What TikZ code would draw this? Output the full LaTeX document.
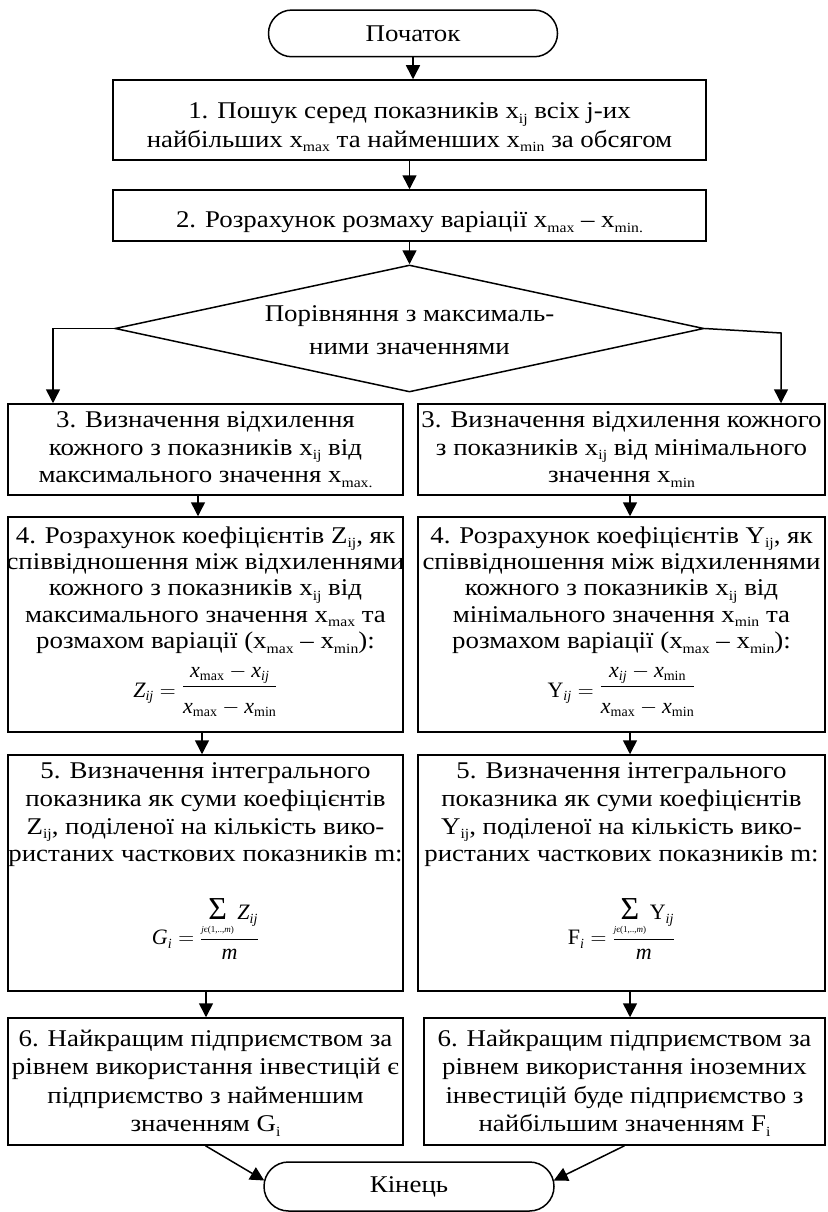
\RequirePackage{fix-cm}
\documentclass[tikz,border=0pt]{standalone}
\usepackage{amsmath}
\usepackage{graphicx}
\usepackage{fontspec}
\setmainfont{Liberation Serif}[FakeStretch=1.12]
\newfontfamily\eqfont{Liberation Serif}
\usetikzlibrary{arrows.meta,shapes.geometric,calc}
\newcommand\sbx[1]{\raisebox{-4.5pt}{\fontsize{14}{14}\selectfont #1}}
\newcommand\zi[1]{\mbox{\eqfont\itshape #1}}
\newcommand\zr[1]{\mbox{\eqfont #1}}
\newcommand\zsi[1]{\mbox{\fontsize{14}{14}\selectfont\eqfont\itshape #1}}
\newcommand\zsr[1]{\mbox{\fontsize{14}{14}\selectfont\eqfont #1}}
\newcommand\zlim{\mbox{\fontsize{9}{9}\selectfont\eqfont\itshape j\upshape є(1,..,\itshape m\upshape)}}
\newcommand\bigsum{\mathop{\mbox{\fontsize{32}{32}\selectfont\eqfont Σ}}}
\newcommand\eqfrac[2]{\dfrac{\raisebox{-4pt}[\height][0pt]{$#1$}}{\rule{0pt}{23.5pt}#2}}
\newcommand\lowr[1]{\raisebox{-5pt}{$#1$}}
\newcommand\strt[1]{\rule{0pt}{#1}}
\newcommand\tf[1]{\fontsize{24}{#1}\selectfont\lineskiplimit=-100pt\relax}
\newcommand\eqsz{\fontsize{22}{24}\selectfont}
\begin{document}
\begin{tikzpicture}[x=1pt,y=-1pt,line width=1.5pt,
  shp/.style={draw,rectangle,inner sep=0pt},
  tx/.style={inner sep=0pt,align=center,anchor=north},
  arr/.style={-{Triangle[length=14pt,width=14pt]}}]
\useasboundingbox (0,0) rectangle (827,1212);

% shapes
\node[shp,rounded corners=23.3pt,minimum width=289pt,minimum height=46.7pt,font=\tf{30pt}] (start) at (413,33.4) {Початок};
\node[shp,minimum width=593pt,minimum height=80pt] (b1) at (409.5,120) {};
\node[shp,minimum width=593pt,minimum height=51pt] (b2) at (409.5,215.5) {};
\node[shp,diamond,minimum width=589pt,minimum height=127pt] (d) at (409.5,328.5) {};
\node[shp,minimum width=395pt,minimum height=91pt] (b3L) at (205.5,449.5) {};
\node[shp,minimum width=407pt,minimum height=91pt] (b3R) at (621.5,449.5) {};
\node[shp,minimum width=395pt,minimum height=215pt] (b4L) at (205.5,624.5) {};
\node[shp,minimum width=407pt,minimum height=215pt] (b4R) at (621.5,624.5) {};
\node[shp,minimum width=395pt,minimum height=236pt] (b5L) at (205.5,873) {};
\node[shp,minimum width=407pt,minimum height=236pt] (b5R) at (621.5,873) {};
\node[shp,minimum width=395pt,minimum height=127pt] (b6L) at (205.5,1081.5) {};
\node[shp,minimum width=401pt,minimum height=127pt] (b6R) at (624.5,1081.5) {};
\node[shp,rounded corners=24.5pt,minimum width=290pt,minimum height=49pt,font=\tf{30pt}] (fin) at (409,1186.5) {Кінець};

% texts
\node[tx,font=\tf{28.5pt}] (t1) at (409.5,94)
  {\strt{24pt}1. Пошук серед показників x\sbx{ij} всіх j-их\\найбільших x\sbx{max} та найменших x\sbx{min} за обсягом};
\node[tx,font=\tf{28pt}] (t2) at (409.5,203)
  {\strt{24pt}2. Розрахунок розмаху варіації x\sbx{max} – x\sbx{min.}};
\node[tx,font=\tf{33pt}] (td) at (409.5,297)
  {\strt{24pt}Порівняння з максималь-\\ними значеннями};

\node[tx,font=\tf{27.5pt}] (t3L) at (205.5,403)
  {\strt{24pt}3. Визначення відхилення\\кожного з показників x\sbx{ij} від\\максимального значення x\sbx{max.}};
\node[tx,font=\tf{27.5pt}] (t3R) at (621.5,403)
  {\strt{24pt}3. Визначення відхилення кожного\\з показників x\sbx{ij} від мінімального\\значення x\sbx{min}};

\node[tx,font=\tf{26.4pt}] (t4L) at (205.5,518.3)
  {\strt{24pt}4. Розрахунок коефіцієнтів Z\sbx{ij}, як\\співвідношення між відхиленнями\\кожного з показників x\sbx{ij} від\\максимального значення x\sbx{max} та\\розмахом варіації (x\sbx{max} – x\sbx{min}):};
\node[tx,font=\tf{26.4pt}] (t4R) at (621.5,518.3)
  {\strt{24pt}4. Розрахунок коефіцієнтів Y\sbx{ij}, як\\співвідношення між відхиленнями\\кожного з показників x\sbx{ij} від\\мінімального значення x\sbx{min} та\\розмахом варіації (x\sbx{max} – x\sbx{min}):};
\node[inner sep=0pt,anchor=base,font=\eqsz] (f4L) at (205.5,692.2)
  {$\lowr{\zi{Z}_{\zsi{ij}}} \mathrel{\lowr{=}} \eqfrac{\zi{x}_{\zsr{max}} - \zi{x}_{\zsi{ij}}}{\zi{x}_{\zsr{max}} - \zi{x}_{\zsr{min}}}$};
\node[inner sep=0pt,anchor=base,font=\eqsz] (f4R) at (621.5,692.2)
  {$\lowr{\zr{Y}_{\zsi{ij}}} \mathrel{\lowr{=}} \eqfrac{\zi{x}_{\zsi{ij}} - \zi{x}_{\zsr{min}}}{\zi{x}_{\zsr{max}} - \zi{x}_{\zsr{min}}}$};

\node[tx,font=\tf{27.7pt}] (t5L) at (205.5,754)
  {\strt{24pt}5. Визначення інтегрального\\показника як суми коефіцієнтів\\Z\sbx{ij}, поділеної на кількість вико-\\ристаних часткових показників m:};
\node[tx,font=\tf{27.7pt}] (t5R) at (621.5,754)
  {\strt{24pt}5. Визначення інтегрального\\показника як суми коефіцієнтів\\Y\sbx{ij}, поділеної на кількість вико-\\ристаних часткових показників m:};
\node[inner sep=0pt,anchor=base,font=\eqsz] (f5L) at (205.5,944.8)
  {$\zi{G}_{\zsi{i}} = \dfrac{\bigsum\limits_{\zlim}\zi{Z}_{\zsi{ij}}}{\rule{0pt}{17pt}\zi{m}}$};
\node[inner sep=0pt,anchor=base,font=\eqsz] (f5R) at (621.5,944.8)
  {$\zr{F}_{\zsi{i}} = \dfrac{\bigsum\limits_{\zlim}\zr{Y}_{\zsi{ij}}}{\rule{0pt}{17pt}\zi{m}}$};

\node[tx,font=\tf{28.6pt}] (t6L) at (205.5,1021.3)
  {\strt{24pt}6. Найкращим підприємством за\\рівнем використання інвестицій є\\підприємство з найменшим\\значенням G\sbx{i}};
\node[tx,font=\tf{28.6pt}] (t6R) at (624.5,1021.3)
  {\strt{24pt}6. Найкращим підприємством за\\рівнем використання іноземних\\інвестицій буде підприємство з\\найбільшим значенням F\sbx{i}};

% connectors
\draw[arr] (start.south) -- (start.south |- b1.north);
\draw[arr] (b1.south) -- (b2.north);
\draw[arr] (b2.south) -- (d.north);
\coordinate (lb) at (53,328.5);
\coordinate (rb) at (781,333);
\draw[arr] (d.west) -- (lb) -- (lb |- b3L.north);
\draw[arr] (d.east) -- (rb) -- (rb |- b3R.north);
\draw[arr] ([xshift=-7.5pt]b3L.south) -- ([xshift=-7.5pt]b4L.north);
\draw[arr] ([xshift=-3.5pt]b4L.south) -- ([xshift=-3.5pt]b5L.north);
\draw[arr] ([xshift=0.5pt]b5L.south) -- ([xshift=0.5pt]b6L.north);
\draw[arr] ([xshift=8.5pt]b3R.south) -- ([xshift=8.5pt]b4R.north);
\draw[arr] ([xshift=8.5pt]b4R.south) -- ([xshift=8.5pt]b5R.north);
\draw[arr] ([xshift=8.5pt]b5R.south) -- ([xshift=8.5pt]b5R.south |- b6R.north);
\draw[arr] (b6L.south) -- ($(fin.west)+(1,-6)$);
\draw[arr] (b6R.south) -- ($(fin.east)+(-1,-6)$);
\end{tikzpicture}
\end{document}
